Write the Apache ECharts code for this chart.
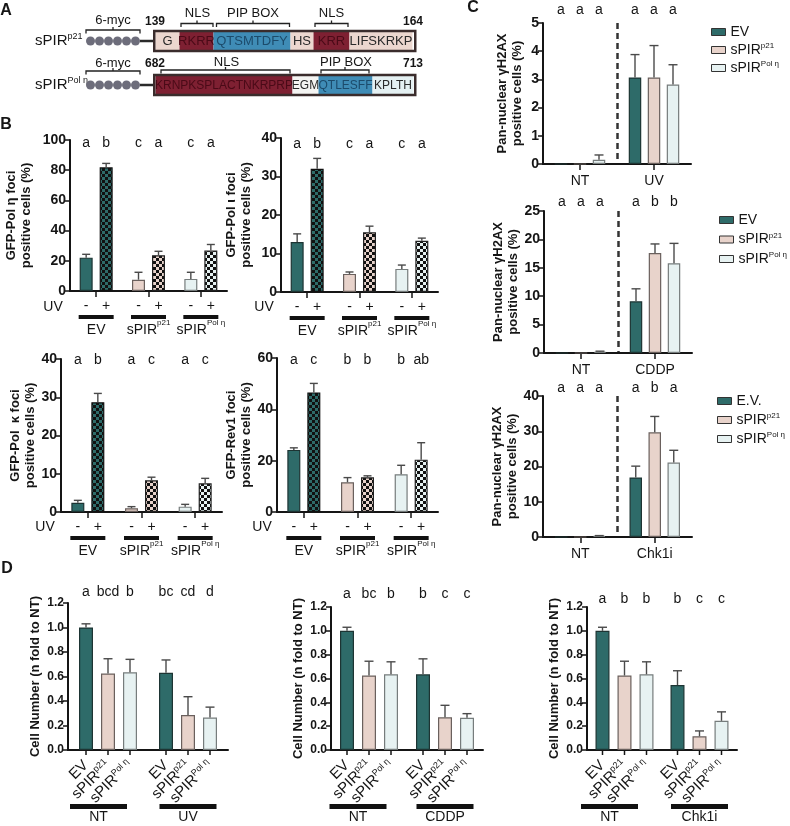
<!DOCTYPE html>
<html>
<head>
<meta charset="utf-8">
<title>sPIR figure</title>
<script src="https://cdn.jsdelivr.net/npm/echarts@6.0.0/dist/echarts.min.js"></script>
<style>
  html, body { margin: 0; padding: 0; background: #fff; }
  #main { width: 790px; height: 826px; }
</style>
</head>
<body>
<div id="main"></div>
<script>
// ---- panel A: construct schematics
var p21Motif = ['G', 'RKRR', 'QTSMTDFY', 'HS', 'KRR', 'LIFSKRKP'];
var p21MotifKind = ['flank', 'nls', 'pip', 'flank', 'nls', 'flank'];
var polEtaMotif = ['KRNPKSPLACTNKRPRP', 'EGM', 'QTLESFF', 'KPLTH'];
var polEtaMotifKind = ['nls', 'gap', 'pip', 'tail'];

// ---- panel B: GFP-TLS polymerase foci (%), UV - / +
var bGroups = ['EV', 'sPIR p21', 'sPIR Pol η'];
var polEtaMinus = [22.1, 7.5, 8.0];
var polEtaMinusErr = [2.2, 4.9, 4.4];
var polEtaPlus = [81.9, 23.7, 26.8];
var polEtaPlusErr = [2.6, 2.6, 4.0];
var polEtaLetters = ['a', 'b', 'c', 'a', 'c', 'a'];

var polIotaMinus = [13.0, 4.7, 6.0];
var polIotaMinusErr = [2.1, 0.5, 1.0];
var polIotaPlus = [32.0, 15.5, 13.3];
var polIotaPlusErr = [2.7, 1.6, 0.7];
var polIotaLetters = ['a', 'b', 'c', 'a', 'c', 'a'];

var polKappaMinus = [2.4, 1.0, 1.4];
var polKappaMinusErr = [0.65, 0.4, 0.6];
var polKappaPlus = [28.7, 8.3, 7.5];
var polKappaPlusErr = [2.3, 0.8, 1.3];
var polKappaLetters = ['a', 'b', 'a', 'c', 'a', 'c'];

var rev1Minus = [24.2, 11.6, 14.7];
var rev1MinusErr = [0.8, 1.8, 3.5];
var rev1Plus = [46.6, 13.5, 20.4];
var rev1PlusErr = [3.5, 0.6, 6.6];
var rev1Letters = ['a', 'c', 'b', 'b', 'b', 'ab'];

// ---- panel C: pan-nuclear gH2AX (%)
var cNames = ['EV', 'sPIR p21', 'sPIR Pol η'];
var cNamesEV = ['E.V.', 'sPIR p21', 'sPIR Pol η'];
var uvGroups = ['NT', 'UV'];
var gUvEV = [0, 3.07], gUvEVErr = [0, 0.81];
var gUvP21 = [0, 3.07], gUvP21Err = [0, 1.13];
var gUvPol = [0.15, 2.82], gUvPolErr = [0.17, 0.70];
var gUvLetters = ['a', 'a', 'a', 'a', 'a', 'a'];

var cddpGroups = ['NT', 'CDDP'];
var gCddpEV = [0, 9.1], gCddpEVErr = [0, 2.2];
var gCddpP21 = [0, 17.6], gCddpP21Err = [0, 1.6];
var gCddpPol = [0.2, 15.8], gCddpPolErr = [0.12, 3.5];
var gCddpLetters = ['a', 'a', 'a', 'a', 'b', 'b'];

var chkGroups = ['NT', 'Chk1i'];
var gChkEV = [0, 16.9], gChkEVErr = [0, 3.2];
var gChkP21 = [0, 29.7], gChkP21Err = [0, 4.5];
var gChkPol = [0.3, 21.1], gChkPolErr = [0.1, 3.5];
var gChkLetters = ['a', 'a', 'a', 'a', 'b', 'a'];

// ---- panel D: cell number (fold to NT)
var nUvEV = [1.0, 0.63], nUvEVErr = [0.03, 0.105];
var nUvP21 = [0.625, 0.285], nUvP21Err = [0.12, 0.15];
var nUvPol = [0.635, 0.265], nUvPolErr = [0.105, 0.085];
var nUvLetters = ['a', 'bcd', 'b', 'bc', 'cd', 'd'];

var nCddpEV = [1.0, 0.635], nCddpEVErr = [0.03, 0.13];
var nCddpP21 = [0.625, 0.275], nCddpP21Err = [0.12, 0.10];
var nCddpPol = [0.635, 0.27], nCddpPolErr = [0.105, 0.035];
var nCddpLetters = ['a', 'bc', 'b', 'b', 'c', 'c'];

var nChkEV = [1.0, 0.545], nChkEVErr = [0.03, 0.12];
var nChkP21 = [0.625, 0.115], nChkP21Err = [0.12, 0.045];
var nChkPol = [0.635, 0.245], nChkPolErr = [0.105, 0.075];
var nChkLetters = ['a', 'b', 'b', 'b', 'c', 'c'];

var FONT = '"Liberation Sans", Arial, Helvetica, sans-serif';
var INK = '#151515';
var TEAL = '#2e6b69', PINK = '#e8d3cb', PALE = '#e7f2f2';
var TEAL_EDGE = '#1d3433', PINK_EDGE = '#6a605d', PALE_EDGE = '#767c7c';

function checker(base) {
    var c = document.createElement('canvas');
    c.width = 6; c.height = 6;
    var ctx = c.getContext('2d');
    ctx.fillStyle = base; ctx.fillRect(0, 0, 6, 6);
    ctx.fillStyle = '#111';
    ctx.fillRect(0, 0, 3, 3); ctx.fillRect(3, 3, 3, 3);
    return {image: c, repeat: 'repeat'};
}

// 'sPIR p21' -> sPIR with superscript
function nameRich(name) {
    if (name.indexOf('sPIR ') === 0) return '{n|sPIR}{sup|' + name.slice(5) + '}';
    return '{n|' + name + '}';
}
function richStyles(size, lh) {
    return {
        n: {fontFamily: FONT, fontSize: size, lineHeight: lh, color: INK},
        sup: {fontFamily: FONT, fontSize: Math.round(size * 0.6), lineHeight: lh - 8, verticalAlign: 'top', color: INK}
    };
}

var grids = [], xAxes = [], yAxes = [], series = [], graphics = [];

function addChart(c) {
    var gi = grids.length;
    grids.push({left: c.left, top: c.top, width: c.width, height: c.height, containLabel: false, outerBoundsMode: 'none'});
    xAxes.push(Object.assign({
        type: 'category', gridIndex: gi, data: c.cats,
        axisLine: {show: true, onZero: true, lineStyle: {color: INK, width: 2}},
        axisTick: {show: true, alignWithLabel: true, length: 6, lineStyle: {color: INK, width: 1.5}},
        splitLine: {show: false}
    }, c.xAxis));
    yAxes.push({
        type: 'value', gridIndex: gi, min: 0, max: c.yMax, interval: c.yStep,
        name: c.yName, nameLocation: 'middle', nameGap: c.nameGap, nameRotate: 90,
        nameTextStyle: {fontFamily: FONT, fontWeight: 'bold', fontSize: 13, lineHeight: 15, color: INK},
        axisLine: {show: true, lineStyle: {color: INK, width: 2}},
        axisTick: {show: true, length: 5, lineStyle: {color: INK, width: 1.5}},
        axisLabel: {fontFamily: FONT, fontWeight: 'bold', fontSize: c.tickSize || 14, color: INK, margin: 4, formatter: c.yFormat},
        splitLine: {show: false}
    });
    var n = c.sets.length;
    c.sets.forEach(function (s, si) {
        var off = (si - (n - 1) / 2) * (c.barWidth + c.barGap);
        series.push({
            type: 'bar', name: s.name, xAxisIndex: gi, yAxisIndex: gi,
            barWidth: c.barWidth, barGap: (c.barGap / c.barWidth * 100) + '%',
            itemStyle: {color: s.color, borderColor: s.edge, borderWidth: 1.2},
            data: s.values.map(function (v, ci) {
                return s.fills ? {value: v, itemStyle: {color: s.fills[ci], borderColor: s.edges[ci]}} : v;
            }),
            label: s.label || {show: false},
            silent: true
        });
        // error bars (upper only), significance letters, per-bar ticks
        series.push({
            type: 'custom', xAxisIndex: gi, yAxisIndex: gi, z: 4, silent: true,
            data: s.values.map(function (v, ci) { return [ci, v, v + s.errors[ci]]; }),
            renderItem: function (params, api) {
                var ci = api.value(0);
                var base = api.coord([ci, 0]);
                var x = base[0] + off;
                var yBar = api.coord([ci, api.value(1)])[1];
                var yErr = api.coord([ci, api.value(2)])[1];
                var yTop = api.coord([ci, c.yMax])[1];
                var st = {stroke: '#4a4a4a', lineWidth: 1.4};
                var kids = [];
                if (api.value(2) > api.value(1)) {
                    kids.push({type: 'line', shape: {x1: x, y1: yBar, x2: x, y2: yErr}, style: st});
                    kids.push({type: 'line', shape: {x1: x - c.cap, y1: yErr, x2: x + c.cap, y2: yErr}, style: st});
                }
                kids.push({type: 'text', x: x, y: yTop + c.letterDy, style: {
                    text: c.letters[ci * n + si], fontFamily: FONT, fontSize: 14, fill: INK, align: 'center', verticalAlign: 'middle'}});
                if (c.barTicks) {
                    kids.push({type: 'line', shape: {x1: x, y1: base[1], x2: x, y2: base[1] + 5}, style: {stroke: INK, lineWidth: 1.5}});
                }
                return {type: 'group', children: kids};
            }
        });
    });
}

function signLabel(sym) {
    return {show: true, position: 'bottom', distance: 8, formatter: sym, fontFamily: FONT, fontSize: 14, color: INK};
}
function uvSets(minus, minusErr, plus, plusErr) {
    return [
        {name: 'UV -', values: minus, errors: minusErr, fills: [TEAL, PINK, PALE], edges: [TEAL_EDGE, PINK_EDGE, PALE_EDGE], label: signLabel('-')},
        {name: 'UV +', values: plus, errors: plusErr, fills: [checker(TEAL), checker(PINK), checker(PALE)], edges: ['#111', '#222', '#222'], label: signLabel('+')}
    ];
}
var bXAxis = {axisLabel: {
    interval: 0, margin: 24,
    formatter: function (v) { return '{bar| }\n' + nameRich(v); },
    rich: Object.assign({bar: {width: 35, height: 4, lineHeight: 4, fontSize: 1, backgroundColor: '#111'}}, richStyles(14, 23))
}};

function bChart(box, yName, nameGap, yMax, yStep, minus, minusErr, plus, plusErr, letters, letterDy) {
    addChart({
        left: box[0], top: box[1], width: box[2], height: box[3],
        cats: bGroups, xAxis: bXAxis, yName: yName, nameGap: nameGap, yMax: yMax, yStep: yStep,
        barWidth: 13, barGap: 7, cap: 4, letters: letters, letterDy: letterDy,
        sets: uvSets(minus, minusErr, plus, plusErr)
    });
}

bChart([70, 140, 157, 151], 'GFP-Pol η foci\npositive cells (%)', 36, 100, 20,
    polEtaMinus, polEtaMinusErr, polEtaPlus, polEtaPlusErr, polEtaLetters, 3);
bChart([281, 138, 157, 154], 'GFP-Pol ι foci\npositive cells (%)', 27, 40, 10,
    polIotaMinus, polIotaMinusErr, polIotaPlus, polIotaPlusErr, polIotaLetters, 6);
bChart([61, 359, 161, 153], 'GFP-Pol  κ foci\npositive cells (%)', 18, 40, 10,
    polKappaMinus, polKappaMinusErr, polKappaPlus, polKappaPlusErr, polKappaLetters, 1);
bChart([277, 358, 161, 154], 'GFP-Rev1 foci\npositive cells (%)', 23, 60, 20,
    rev1Minus, rev1MinusErr, rev1Plus, rev1PlusErr, rev1Letters, 2);

function triSets(names, vals, errs, label) {
    var fills = [TEAL, PINK, PALE], edges = [TEAL_EDGE, PINK_EDGE, PALE_EDGE];
    return vals.map(function (v, i) {
        return {name: names[i], values: v, errors: errs[i], color: fills[i], edge: edges[i], label: label};
    });
}
var cXAxis = {
    axisLabel: {interval: 0, margin: 10, fontFamily: FONT, fontSize: 14, color: INK},
    splitLine: {show: true, interval: 0, showMinLine: false, showMaxLine: false, lineStyle: {color: '#333', width: 2.5, type: [6, 4]}}
};
var cName = 'Pan-nuclear γH2AX\npositive cells (%)';

addChart({left: 543, top: 23, width: 148, height: 141, cats: uvGroups, xAxis: cXAxis,
    yName: cName, nameGap: 18, yMax: 5, yStep: 1, barWidth: 12.5, barGap: 6.5, cap: 4.5,
    letters: gUvLetters, letterDy: -13,
    sets: triSets(cNames, [gUvEV, gUvP21, gUvPol], [gUvEVErr, gUvP21Err, gUvPolErr])});
addChart({left: 544, top: 211, width: 148, height: 142, cats: cddpGroups, xAxis: cXAxis,
    yName: cName, nameGap: 18, yMax: 25, yStep: 5, barWidth: 12.5, barGap: 6.5, cap: 4.5,
    letters: gCddpLetters, letterDy: -9,
    sets: triSets(cNames, [gCddpEV, gCddpP21, gCddpPol], [gCddpEVErr, gCddpP21Err, gCddpPolErr])});
addChart({left: 543, top: 396, width: 149, height: 141, cats: chkGroups, xAxis: cXAxis,
    yName: cName, nameGap: 18, yMax: 40, yStep: 10, barWidth: 12.5, barGap: 6.5, cap: 4.5,
    letters: gChkLetters, letterDy: -8,
    sets: triSets(cNamesEV, [gChkEV, gChkP21, gChkPol], [gChkEVErr, gChkP21Err, gChkPolErr])});

var dBarLabel = {show: true, position: 'bottom', distance: 13, rotate: 45, align: 'right', verticalAlign: 'middle',
    formatter: function (p) { return nameRich(p.seriesName); }, rich: richStyles(15, 17)};
function dXAxis(shift) {
    return {
        axisTick: {show: false},
        axisLabel: {
            interval: 0, margin: 54,
            formatter: function (v, i) {
                return i === 0 ? '{bar| }{sp| }\n{n|' + v + '}{sp| }' : '{bar| }\n{n|' + v + '}';
            },
            rich: {
                bar: {width: 57, height: 5, lineHeight: 5, fontSize: 1, backgroundColor: '#111'},
                sp: {width: shift * 2, fontSize: 1},
                n: {fontFamily: FONT, fontSize: 14, lineHeight: 16, color: INK}
            }
        }
    };
}
function dChart(box, shift, groups, vals, errs, letters, letterDy) {
    addChart({left: box[0], top: box[1], width: box[2], height: box[3], cats: groups, xAxis: dXAxis(shift),
        yName: 'Cell Number (n fold to NT)', nameGap: box[4], yMax: 1.2, yStep: 0.2, tickSize: 12,
        yFormat: function (v) { return v.toFixed(1); },
        barWidth: 14, barGap: 8, cap: 4.5, letters: letters, letterDy: letterDy, barTicks: true,
        sets: triSets(cNames, vals, errs, dBarLabel)});
}
dChart([68, 603, 160, 147, 21], 9.5, uvGroups, [nUvEV, nUvP21, nUvPol], [nUvEVErr, nUvP21Err, nUvPolErr], nUvLetters, -11);
dChart([331, 607, 152, 143, 24], 11, cddpGroups, [nCddpEV, nCddpP21, nCddpPol], [nCddpEVErr, nCddpP21Err, nCddpPolErr], nCddpLetters, -13);
dChart([587, 607, 150, 143, 25], 15, chkGroups, [nChkEV, nChkP21, nChkPol], [nChkEVErr, nChkP21Err, nChkPolErr], nChkLetters, -8);

// ---- free text + panel A drawing
function txt(x, y, text, opt) {
    graphics.push({type: 'text', x: x, y: y, silent: true, style: Object.assign({
        text: text, fontFamily: FONT, fontSize: 13, fill: INK, align: 'center', verticalAlign: 'middle'}, opt || {})});
}
function bracket(x1, x2, y) {
    var st = {stroke: '#222', lineWidth: 1.3, fill: null};
    graphics.push({type: 'polyline', silent: true, shape: {points: [[x1, y + 3.5], [x1, y], [x2, y], [x2, y + 3.5]]}, style: st});
    graphics.push({type: 'line', silent: true, shape: {x1: (x1 + x2) / 2, y1: y, x2: (x1 + x2) / 2, y2: y - 3}, style: st});
}
var kindStyle = {
    nls: ['#7e2032', '#4a0a17'], pip: ['#3f8cb6', '#1c4b6b'],
    flank: ['#ecd7cf', '#2a2a2a'], gap: ['#f4f4f2', '#2a2a2a'], tail: ['#e4f0f2', '#2a2a2a']
};
function construct(y, label, motif, kinds, widths, size) {
    txt(35, y, nameRich(label), {align: 'left', rich: richStyles(15, 18)});
    for (var i = 0; i < 6; i++) {
        graphics.push({type: 'circle', silent: true, shape: {cx: 90.5 + 9 * i, cy: y, r: 4.5}, style: {fill: '#6d6d7b'}});
    }
    graphics.push({type: 'line', silent: true, shape: {x1: 140, y1: y, x2: 154, y2: y}, style: {stroke: '#2a2a2a', lineWidth: 2.5}});
    var x = 155.5;
    motif.forEach(function (m, i) {
        var ks = kindStyle[kinds[i]];
        graphics.push({type: 'rect', silent: true, shape: {x: x, y: y - 9.5, width: widths[i], height: 19}, style: {fill: ks[0]}});
        txt(x + widths[i] / 2, y + 0.5, m, {fontSize: size, fill: ks[1]});
        x += widths[i];
    });
    graphics.push({type: 'rect', silent: true, shape: {x: 154.25, y: y - 10, width: 261, height: 20},
        style: {fill: null, stroke: '#3a2c2c', lineWidth: 2.5}});
}
construct(41, 'sPIR p21', p21Motif, p21MotifKind, [24, 34, 77, 23, 36, 63], 13);
txt(155, 21.5, '139', {fontWeight: 'bold', fontSize: 12});
txt(413, 21.5, '164', {fontWeight: 'bold', fontSize: 12});
txt(113, 20, '6-myc'); bracket(86, 140, 30);
txt(197.5, 13, 'NLS'); bracket(181, 213, 23.5);
txt(253, 13, 'PIP BOX'); bracket(216.5, 289.5, 23.5);
txt(331.5, 13, 'NLS'); bracket(315, 348, 23.5);

construct(85, 'sPIR Pol η', polEtaMotif, polEtaMotifKind, [137, 26, 54, 41], 12);
txt(155, 64, '682', {fontWeight: 'bold', fontSize: 12});
txt(413, 64, '713', {fontWeight: 'bold', fontSize: 12});
txt(113, 63, '6-myc'); bracket(86, 140, 71);
txt(226.5, 62, 'NLS'); bracket(161, 290, 70);
txt(346, 62, 'PIP BOX'); bracket(321, 369, 70);

txt(6, 11, 'A', {fontWeight: 'bold', fontSize: 16});
txt(6, 125, 'B', {fontWeight: 'bold', fontSize: 16});
txt(473, 8, 'C', {fontWeight: 'bold', fontSize: 16});
txt(7, 569, 'D', {fontWeight: 'bold', fontSize: 16});

txt(53, 307, 'UV', {fontSize: 14});
txt(264, 307, 'UV', {fontSize: 14});
txt(45, 527, 'UV', {fontSize: 14});
txt(262, 527, 'UV', {fontSize: 14});

function legendAt(left, top, gap, names) {
    return {
        data: names, left: left, top: top, orient: 'vertical', icon: 'rect',
        itemWidth: 14, itemHeight: 7, itemGap: gap, selectedMode: false,
        itemStyle: {borderColor: '#333', borderWidth: 1},
        formatter: nameRich, textStyle: {rich: richStyles(14, 16)}
    };
}

var chart = echarts.init(document.getElementById('main'));
chart.setOption({
    animation: false,
    backgroundColor: '#fff',
    textStyle: {fontFamily: FONT},
    grid: grids,
    xAxis: xAxes,
    yAxis: yAxes,
    legend: [legendAt(706, 20, 3, cNames), legendAt(714, 208, 4.5, cNames), legendAt(712, 389, 4, cNamesEV)],
    series: series,
    graphic: graphics
});
</script>
</body>
</html>
